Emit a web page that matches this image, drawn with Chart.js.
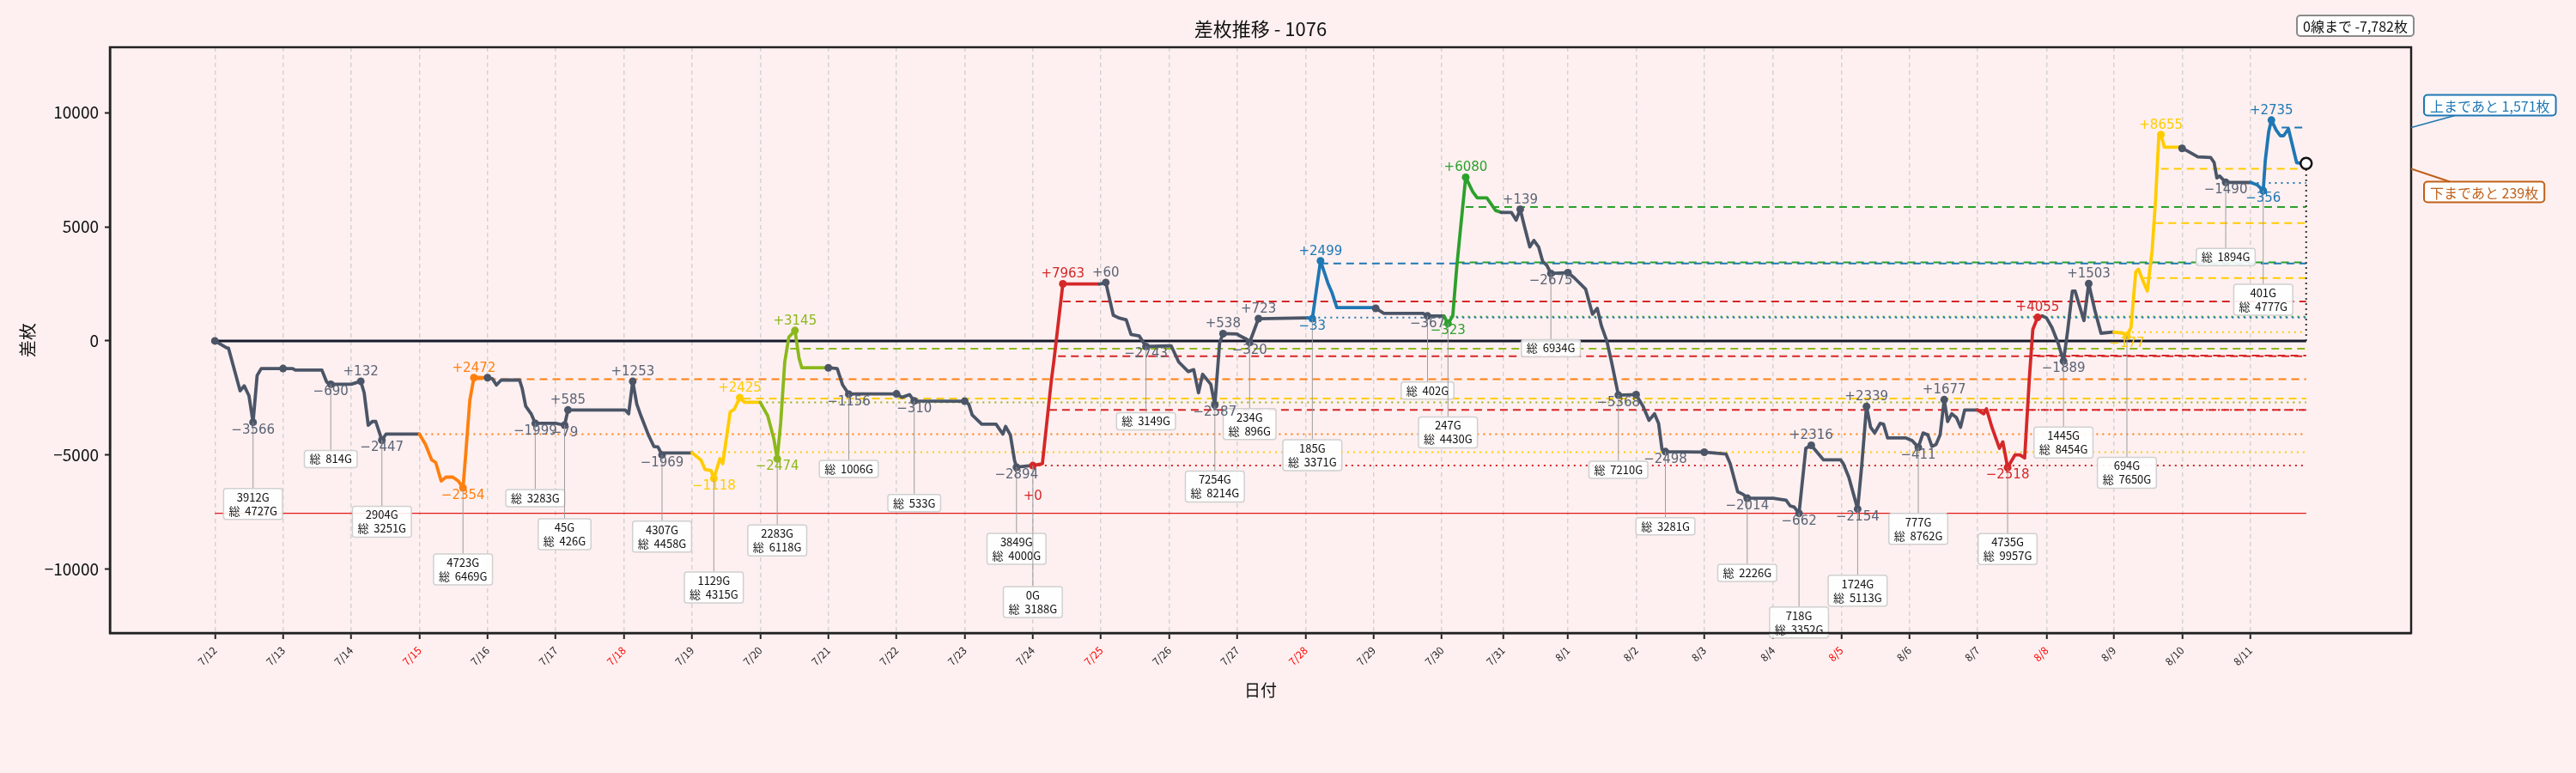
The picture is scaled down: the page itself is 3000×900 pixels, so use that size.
<!DOCTYPE html>
<html lang="ja">
<head>
<meta charset="utf-8">
<title>差枚推移 - 1076</title>
<script src="https://cdn.jsdelivr.net/npm/chart.js@4.4.1/dist/chart.umd.min.js"></script>
<style>
  html, body { margin: 0; padding: 0; background: #fef0f0; }
  canvas { display: block; }
</style>
</head>
<body>
<canvas id="chart" width="3000" height="900"></canvas>
<script>
// day ticks (x unit = one business day)
const dayLabels = ['7/12', '7/13', '7/14', '7/15', '7/16', '7/17', '7/18', '7/19', '7/20', '7/21', '7/22',
  '7/23', '7/24', '7/25', '7/26', '7/27', '7/28', '7/29', '7/30', '7/31', '8/1', '8/2', '8/3', '8/4',
  '8/5', '8/6', '8/7', '8/8', '8/9', '8/10', '8/11'];
const dayPos = [0, 1, 2, 3, 4, 5, 6, 7, 8, 9, 10, 11, 12, 13, 14, 15, 16, 17, 18, 18.9, 19.85,
  20.85, 21.85, 22.86, 23.86, 24.86, 25.86, 26.87, 27.86, 28.86, 29.86];
const redDays = ['7/15', '7/18', '7/25', '7/28', '8/5', '8/8'];
const yTicks = [-10000, -5000, 0, 5000, 10000];

// cumulative difference line
const lineX = [
  0, 0.17, 0.20, 0.37, 0.43, 0.50, 0.56, 0.62, 0.68, 1.00,
  1.14, 1.18, 1.57, 1.64, 1.70, 1.96,
  2.00, 2.14, 2.19, 2.25, 2.31, 2.36, 2.45, 2.51, 2.99,
  3.00, 3.09, 3.18, 3.24, 3.32, 3.39, 3.49, 3.57, 3.64, 3.68, 3.74, 3.80, 3.87, 4.00,
  4.07, 4.13, 4.20, 4.47, 4.51, 4.56, 4.64, 4.70, 4.99,
  5.00, 5.13, 5.18, 5.24, 5.96,
  6.02, 6.07, 6.13, 6.19, 6.25, 6.36, 6.44, 6.50, 6.56, 6.60, 6.98,
  7.00, 7.13, 7.19, 7.28, 7.32, 7.41, 7.45, 7.56, 7.62, 7.70, 7.77, 7.99,
  8.00, 8.11, 8.20, 8.25, 8.30, 8.36, 8.42, 8.51, 8.57, 8.61, 8.97,
  9.00, 9.13, 9.21, 9.30, 9.40, 10.00,
  10.08, 10.19, 10.26, 11.00,
  11.06, 11.11, 11.25, 11.46, 11.56, 11.60, 11.67, 11.73, 11.76, 11.97,
  12.00, 12.14, 12.27, 12.31, 12.44, 12.97,
  13.00, 13.07, 13.18, 13.26, 13.37, 13.44, 13.56, 13.66, 13.99,
  14.03, 14.14, 14.28, 14.36, 14.43, 14.49, 14.61, 14.67, 14.74, 14.79, 15.00,
  15.02, 15.13, 15.18, 15.31, 15.99,
  16.03, 16.10, 16.22, 16.33, 16.39, 16.46, 17.00,
  17.03, 17.15, 17.72, 17.79, 17.99,
  18.03, 18.09, 18.16, 18.22, 18.27, 18.35, 18.45, 18.52, 18.66, 18.79, 18.87,
  18.91, 19.02, 19.09, 19.15, 19.21, 19.29, 19.35, 19.42, 19.48, 19.54, 19.60, 19.85,
  19.94, 20.11, 20.21, 20.28, 20.34, 20.42, 20.49, 20.59, 20.85,
  20.95, 21.04, 21.12, 21.18, 21.23, 21.28, 21.85,
  22.17, 22.23, 22.34, 22.42, 22.48, 22.86,
  23.05, 23.11, 23.17, 23.24, 23.34, 23.42, 23.60, 23.85,
  23.89, 23.97, 24.10, 24.16, 24.23, 24.29, 24.35, 24.43, 24.48, 24.54, 24.81,
  24.90, 24.99, 25.06, 25.13, 25.19, 25.25, 25.31, 25.37, 25.42, 25.48, 25.55, 25.61, 25.67, 25.84,
  25.86, 25.95, 25.99, 26.07, 26.18, 26.23, 26.30, 26.41, 26.48, 26.55, 26.62, 26.67, 26.74, 26.81,
  26.87, 26.95, 27.04, 27.12, 27.18, 27.25, 27.29, 27.42, 27.49, 27.58, 27.67, 27.84,
  27.86, 28.00, 28.05, 28.11, 28.18, 28.22, 28.29, 28.35, 28.42, 28.47, 28.52, 28.55, 28.60, 28.83,
  28.86, 28.94, 29.09, 29.28, 29.33, 29.37, 29.41, 29.50, 29.82,
  29.87, 29.96, 30.05, 30.08, 30.13, 30.17, 30.24, 30.30, 30.35, 30.42, 30.54, 30.60, 30.68
];
const lineY = [
  0, -303, -320, -2186, -1967, -2404, -3566, -1513, -1211, -1211,
  -1211, -1278, -1278, -1799, -1901, -1901,
  -1901, -1769, -2270, -3699, -3531, -3531, -4348, -4085, -4085,
  -4085, -4540, -5212, -5329, -6136, -5968, -5968, -6136, -6439, -4960, -2606, -1613, -1598, -1613,
  -1650, -1934, -1715, -1715, -2102, -2858, -3194, -3612, -3612,
  -3612, -3691, -3027, -3027, -3027,
  -3027, -3194, -1774, -2774, -3279, -4119, -4624, -4650, -4996, -4908, -4908,
  -4908, -5212, -5632, -5682, -6026, -5161, -5380, -3111, -2993, -2483, -2690, -2690,
  -2690, -3279, -4287, -5164, -3615, -925, 168, 455, -757, -1177, -1177,
  -1177, -1211, -1934, -2333, -2320, -2320,
  -2472, -2354, -2630, -2640,
  -2774, -3245, -3648, -3648, -4085, -3749, -4119, -5212, -5534, -5464,
  -5464, -5380, -1766, -841, 2499, 2499,
  2499, 2559, 1126, 1008, 924, 285, 218, -244, -219,
  -219, -925, -1345, -1260, -2270, -1463, -1900, -2806, -85, 319, 300,
  252, 84, -68, 975, 1008,
  1008, 975, 3507, 2521, 2101, 1462, 1462,
  1428, 1210, 1210, 1095, 1092,
  1092, 769, 1092, 3277, 4790, 7172, 6555, 6270, 6270, 5715, 5631,
  5631, 5631, 5294, 5770, 5042, 4118, 4404, 4118, 3479, 3311, 2956, 2992,
  2773, 2269, 1176, 1428, 672, 0, -925, -2376, -2354,
  -2858, -3480, -3194, -3615, -4758, -4852, -4875,
  -4960, -5380, -6607, -6725, -6889, -6893,
  -6977, -7229, -7280, -7555, -4707, -4577, -5212, -5212,
  -5380, -5968, -7366, -5464, -2873, -3783, -4035, -3615, -3648, -4253, -4253,
  -4371, -4664, -4035, -4119, -4623, -4540, -4119, -2576, -3531, -3194, -3362, -3783, -3026, -3026,
  -3026, -3194, -2976, -3783, -4707, -4421, -5544, -4993, -4993, -5128, -1598, 504, 1029, 1092,
  1008, 588, -85, -881, 420, 2185, 2185, 890, 2511, 1344, 336, 386,
  386, 336, 209, 588, 3025, 3143, 2605, 2185, 3950, 6135, 9077, 9041, 8488, 8488,
  8438, 8320, 8068, 8035, 7816, 7144, 7228, 6948, 6942,
  6942, 6841, 6586, 7900, 9161, 9677, 9245, 8993, 8993, 9295, 7816, 7782, 7782
];

// bonus runs
const runFrom = [3.00, 7.00, 8.00, 12.00, 16.03, 18.03, 25.86, 27.86, 29.87];
const runTo = [4.00, 8.00, 9.00, 12.97, 17.00, 18.87, 26.81, 28.83, 30.68];
const runKind = ['orange', 'yellow', 'lime', 'red', 'blue', 'green', 'red', 'yellow', 'blue'];

// daily highs / lows and their diff from the day start
const peakX = [0.56, 1.70, 2.14, 2.45, 3.64, 3.80, 4.70, 5.13, 5.18, 6.13, 6.56, 7.32, 7.70, 8.25, 8.51,
  9.30, 10.26, 11.76, 12.00, 12.44, 13.07, 13.66, 14.67, 14.79, 15.18, 15.31, 16.10, 16.22, 17.79,
  18.09, 18.35, 19.15, 19.60, 20.59, 21.28, 22.48, 23.24, 23.42, 24.10, 24.23, 24.99, 25.37, 26.30,
  26.74, 27.12, 27.49, 28.05, 28.55, 29.50, 30.05, 30.17];
const peakY = [-3566, -1901, -1769, -4348, -6439, -1613, -3612, -3691, -3027, -1774, -4996, -6026, -2483,
  -5164, 455, -2333, -2630, -5534, -5464, 2499, 2559, -244, -2806, 319, -68, 975, 975, 3507, 1095,
  769, 7172, 5770, 2956, -2376, -4852, -6889, -7555, -4577, -7366, -2873, -4664, -2576, -5544,
  1029, -881, 2511, 209, 9041, 6948, 6586, 9677];
const peakDiff = [-3566, -690, 132, -2447, -2354, 2472, -1999, -79, 585, 1253, -1969, -1118, 2425,
  -2474, 3145, -1156, -310, -2894, 0, 7963, 60, -2743, -2587, 538, -320, 723, -33, 2499, -367,
  -323, 6080, 139, -2675, -5368, -2498, -2014, -662, 2316, -2154, 2339, -411, 1677, -2518,
  4055, -1889, 1503, -177, 8655, -1490, -356, 2735];

// plain day-start dots
const dotX = [0, 1.00, 4.00, 9.00, 10.00, 11.00, 17.03, 19.85, 20.85, 21.85, 28.86];
const dotY = [0, -1211, -1613, -1177, -2320, -2640, 1428, 2992, -2354, -4875, 8438];

// game-count notes hanging under the lows
const notePeak = [0, 1, 3, 4, 6, 7, 10, 11, 13, 15, 16, 17, 18, 21, 22, 24, 26, 28, 29, 32, 33, 34,
  35, 36, 38, 40, 42, 44, 46, 48, 49];
const noteGames = [3912, null, 2904, 4723, null, 45, 4307, 1129, 2283, null, null, 3849, 0, null,
  7254, 234, 185, null, 247, null, null, null, null, 718, 1724, 777, 4735, 1445, 694, null, 401];
const noteTotal = [4727, 814, 3251, 6469, 3283, 426, 4458, 4315, 6118, 1006, 533, 4000, 3188, 3149,
  8214, 896, 3371, 402, 4430, 6934, 7210, 3281, 2226, 3352, 5113, 8762, 9957, 8454, 7650, 1894, 4777];
const noteLevel = [0, 0, 0, 0, 0, 1, 0, 1, 0, 0, 1, 0, 2, 0, 0, 0, 2, 0, 1, 0, 0, 0, 0, 1, 0, 0, 0,
  0, 2, 0, 1];

// target levels
const upperLine = 9353;
const lowerLine = 7543;
const refKind = ['orange', 'orange', 'yellow', 'yellow', 'lime', 'lime', 'red', 'red', 'red', 'red',
  'blue', 'blue', 'green', 'green', 'green', 'red', 'red', 'yellow', 'yellow', 'yellow', 'yellow',
  'blue', 'blue'];
const refType = ['start', 'level', 'start', 'level', 'start', 'level', 'start', 'level', 'level',
  'level', 'start', 'level', 'start', 'level', 'level', 'start', 'level', 'start', 'level', 'level',
  'level', 'start', 'level'];
const refFrom = [3.00, 3.82, 7.00, 7.75, 8.00, 8.44, 12.00, 12.24, 12.37, 12.44, 16.10, 16.22, 18.03,
  18.22, 18.35, 25.86, 26.67, 27.86, 28.30, 28.47, 28.55, 29.87, 30.32];
const refValue = [-4085, -1682, -4875, -2522, -2690, -337, -5464, -3026, -673, 1731, 1025, 3395,
  1058, 3445, 5866, -3026, -640, 386, 2756, 5160, lowerLine, 6925, upperLine];

// ---- styles ----
const palette = {
  gray: '#4b5567',
  orange: '#ff7f0e',
  yellow: '#ffcc00',
  lime: '#8cb81c',
  red: '#d62728',
  blue: '#1f77b4',
  green: '#2ca02c'
};
const labelGray = '#5b6476';
const jpFont = '"Noto Sans CJK JP", "Noto Sans", sans-serif';

const lastX = lineX[lineX.length - 1];
const lastY = lineY[lineY.length - 1];
const minY = Math.min(...lineY);

function segmentKind(x0, x1) {
  for (let i = 0; i < runFrom.length; i++) {
    if (x0 >= runFrom[i] - 1e-6 && x1 <= runTo[i] + 1e-6) return runKind[i];
  }
  return 'gray';
}

function pointKind(x) {
  for (let i = 0; i < runFrom.length; i++) {
    if (x >= runFrom[i] - 1e-6 && x < runTo[i] - 1e-6) return runKind[i];
  }
  return 'gray';
}

function signed(v) {
  return v < 0 ? '\u2212' + Math.abs(v) : '+' + v;
}

function roundBox(ctx, x, y, w, h, r) {
  ctx.beginPath();
  ctx.moveTo(x + r, y);
  ctx.arcTo(x + w, y, x + w, y + h, r);
  ctx.arcTo(x + w, y + h, x, y + h, r);
  ctx.arcTo(x, y + h, x, y, r);
  ctx.arcTo(x, y, x + w, y, r);
  ctx.closePath();
}

function textBox(ctx, text, cx, cy, color, border, align) {
  const w = ctx.measureText(text).width + 14;
  const h = 24;
  const left = align === 'right' ? cx - w : align === 'left' ? cx : cx - w / 2;
  roundBox(ctx, left, cy - h / 2, w, h, 4);
  ctx.fillStyle = 'rgba(255,255,255,0.95)';
  ctx.fill();
  ctx.lineWidth = 2;
  ctx.strokeStyle = border;
  ctx.stroke();
  ctx.fillStyle = color;
  ctx.textAlign = 'center';
  ctx.textBaseline = 'middle';
  ctx.fillText(text, left + w / 2, cy + 1);
  return { left, w, h };
}

const annotate = {
  id: 'annotate',
  afterDatasetsDraw(chart) {
    const { ctx, scales: { x, y } } = chart;
    ctx.save();

    // notes with leader lines
    ctx.font = '13px ' + jpFont;
    notePeak.forEach((pi, k) => {
      const px = x.getPixelForValue(peakX[pi]);
      const py = y.getPixelForValue(peakY[pi]);
      const lines = noteGames[k] === null
        ? ['総  ' + noteTotal[k] + 'G']
        : [noteGames[k] + 'G', '総  ' + noteTotal[k] + 'G'];
      const top = py + 77 + noteLevel[k] * 32;
      const h = lines.length * 16 + 4;
      const w = Math.max(...lines.map((l) => ctx.measureText(l).width)) + 12;

      ctx.strokeStyle = '#9c9c9c';
      ctx.lineWidth = 1;
      ctx.beginPath();
      ctx.moveTo(px, py);
      ctx.lineTo(px, top);
      ctx.stroke();

      roundBox(ctx, px - w / 2, top, w, h, 3);
      ctx.fillStyle = 'rgba(255,255,255,0.9)';
      ctx.fill();
      ctx.strokeStyle = '#d0d0d0';
      ctx.lineWidth = 1.5;
      ctx.stroke();

      ctx.fillStyle = '#111';
      ctx.textAlign = 'center';
      ctx.textBaseline = 'middle';
      lines.forEach((l, j) => ctx.fillText(l, px, top + 10 + j * 16));
    });

    // high / low labels (a flat "+0" day sits well below its point)
    ctx.font = '15px "DejaVu Sans", sans-serif';
    ctx.textAlign = 'center';
    ctx.textBaseline = 'middle';
    peakX.forEach((vx, i) => {
      const px = x.getPixelForValue(vx);
      const py = y.getPixelForValue(peakY[i]);
      const kind = pointKind(vx);
      ctx.fillStyle = kind === 'gray' ? labelGray : palette[kind];
      const d = peakDiff[i];
      const dy = d > 0 ? -11 : d === 0 ? 36 : 9;
      ctx.fillText(signed(d), px, py + dy);
    });
    ctx.restore();
  },
  afterDraw(chart) {
    const { ctx, chartArea: area, scales: { y } } = chart;
    ctx.save();

    // frame
    ctx.strokeStyle = '#222';
    ctx.lineWidth = 2.5;
    ctx.strokeRect(area.left, area.top, area.right - area.left, area.bottom - area.top);

    // title
    ctx.fillStyle = '#111';
    ctx.font = '22px ' + jpFont;
    ctx.textAlign = 'center';
    ctx.textBaseline = 'middle';
    ctx.fillText('差枚推移 - 1076', (area.left + area.right) / 2, area.top - 21);

    ctx.font = '16px ' + jpFont;
    textBox(ctx, '0線まで ' + (0 - lastY).toLocaleString('en-US') + '枚', area.right + 3, area.top - 25,
      '#111', '#8a8a8a', 'right');

    // distance to upper / lower targets
    const upY = y.getPixelForValue(upperLine);
    const lowY = y.getPixelForValue(lowerLine);
    const boxLeft = area.right + 15;

    const upBox = textBox(ctx, '上まであと ' + (upperLine - lastY).toLocaleString('en-US') + '枚',
      boxLeft, upY - 26, palette.blue, palette.blue, 'left');
    ctx.strokeStyle = palette.blue;
    ctx.lineWidth = 1.5;
    ctx.beginPath();
    ctx.moveTo(area.right, upY);
    ctx.lineTo(boxLeft + 36, upY - 26 + upBox.h / 2);
    ctx.stroke();

    const lowColor = '#c0601a';
    const lowBox = textBox(ctx, '下まであと ' + (lastY - lowerLine).toLocaleString('en-US') + '枚',
      boxLeft, lowY + 27, lowColor, lowColor, 'left');
    ctx.strokeStyle = lowColor;
    ctx.beginPath();
    ctx.moveTo(area.right, lowY);
    ctx.lineTo(boxLeft + 30, lowY + 27 - lowBox.h / 2);
    ctx.stroke();

    ctx.restore();
  }
};

function hLine(x0, x1, v, color, width, dash, order) {
  return {
    type: 'line',
    data: [{ x: x0, y: v }, { x: x1, y: v }],
    borderColor: color,
    borderWidth: width,
    borderDash: dash,
    pointRadius: 0,
    order: order
  };
}

const datasets = [];

refValue.forEach((v, i) => {
  const dotted = refType[i] === 'start';
  datasets.push(hLine(refFrom[i], lastX, v, palette[refKind[i]], 2, dotted ? [2, 5] : [9, 6], 10));
});

datasets.push(hLine(0, lastX, minY, '#e31a1c', 1.3, [], 9));
datasets.push(hLine(0, lastX, 0, '#161a2c', 3, [], 8));
datasets.push({
  type: 'line',
  data: [{ x: lastX, y: 0 }, { x: lastX, y: lastY }],
  borderColor: '#333',
  borderWidth: 2,
  borderDash: [2, 4],
  pointRadius: 0,
  order: 7
});

datasets.push({
  type: 'line',
  data: lineX.map((vx, i) => ({ x: vx, y: lineY[i] })),
  borderWidth: 3.8,
  borderColor: palette.gray,
  borderJoinStyle: 'round',
  borderCapStyle: 'round',
  pointRadius: 0,
  tension: 0,
  segment: {
    borderColor: (ctx) => palette[segmentKind(ctx.p0.parsed.x, ctx.p1.parsed.x)]
  },
  order: 5
});

datasets.push({
  type: 'scatter',
  data: dotX.map((vx, i) => ({ x: vx, y: dotY[i] })),
  pointRadius: 4.5,
  pointBorderWidth: 0,
  pointBackgroundColor: palette.gray,
  order: 3
});

datasets.push({
  type: 'scatter',
  data: peakX.map((vx, i) => ({ x: vx, y: peakY[i] })),
  pointRadius: 4.5,
  pointBorderWidth: 0,
  pointBackgroundColor: peakX.map((vx) => palette[pointKind(vx)]),
  order: 2
});

datasets.push({
  type: 'scatter',
  data: [{ x: lastX, y: lastY }],
  pointRadius: 6.5,
  pointBorderWidth: 2.5,
  pointBorderColor: '#111',
  pointBackgroundColor: '#fff',
  order: 1
});

new Chart(document.getElementById('chart'), {
  type: 'line',
  data: { datasets: datasets },
  options: {
    responsive: false,
    animation: false,
    layout: { padding: { left: 0, right: 192, top: 55, bottom: 85 } },
    plugins: {
      legend: { display: false },
      tooltip: { enabled: false },
      title: { display: false }
    },
    scales: {
      x: {
        type: 'linear',
        min: -1.54,
        max: 32.22,
        afterFit: (scale) => { scale.height = 78; },
        afterBuildTicks: (scale) => { scale.ticks = dayPos.map((v) => ({ value: v })); },
        ticks: {
          autoSkip: false,
          minRotation: 45,
          maxRotation: 45,
          padding: 6,
          font: { family: jpFont, size: 12 },
          color: (ctx) => (redDays.includes(dayLabels[ctx.index]) ? '#ff0000' : '#222'),
          callback: (value, index) => dayLabels[index]
        },
        grid: {
          color: '#d3d3d3',
          lineWidth: 1.5,
          tickColor: '#222',
          tickLength: 7,
          tickWidth: 2
        },
        border: { color: '#222', width: 2.5, dash: [5, 4] },
        title: {
          display: true,
          text: '日付',
          color: '#111',
          font: { family: jpFont, size: 19 },
          padding: 0
        }
      },
      y: {
        min: -12800,
        max: 12870,
        afterFit: (scale) => { scale.width = 128; },
        afterBuildTicks: (scale) => { scale.ticks = yTicks.map((v) => ({ value: v })); },
        ticks: {
          padding: 7,
          color: '#111',
          font: { family: jpFont, size: 19 },
          callback: (v) => (v < 0 ? '\u2212' + Math.abs(v) : String(v))
        },
        grid: {
          drawOnChartArea: false,
          color: '#222',
          tickColor: '#222',
          tickLength: 6,
          tickWidth: 2
        },
        border: { color: '#222', width: 2.5 },
        title: {
          display: true,
          text: '差枚',
          color: '#111',
          font: { family: jpFont, size: 20 },
          padding: { top: 20, bottom: 0 }
        }
      }
    }
  },
  plugins: [annotate]
});
</script>
</body>
</html>
